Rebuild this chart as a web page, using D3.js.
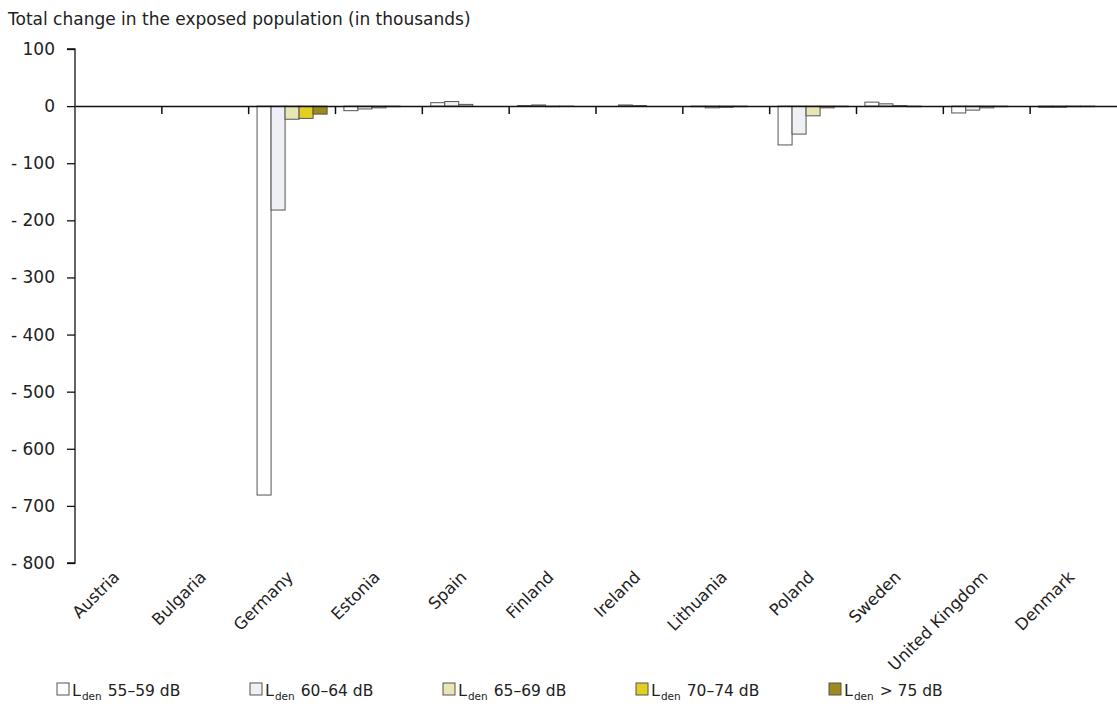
<!DOCTYPE html>
<html>
<head>
<meta charset="utf-8">
<script src="https://cdn.jsdelivr.net/npm/d3@7"></script>
<style>
  html, body { margin: 0; padding: 0; background: #fff; }
  svg { display: block; font-family: "DejaVu Sans", Verdana, sans-serif; }
</style>
</head>
<body>
<svg id="chart" width="1117" height="704"></svg>
<script>
// ---- data ----
const countries = ["Austria", "Bulgaria", "Germany", "Estonia", "Spain", "Finland",
  "Ireland", "Lithuania", "Poland", "Sweden", "United Kingdom", "Denmark"];
const seriesNames = ["55–59 dB", "60–64 dB", "65–69 dB", "70–74 dB", "> 75 dB"];
const s55_59 = [0, 0, -681, -8, 6, 1, 0, -1, -68, 7, -12, -2];
const s60_64 = [0, 0, -182, -5, 8, 2, 2, -3, -49, 4, -7, -2];
const s65_69 = [0, 0, -23, -3, 3, -1, 1, -2, -17, 1, -3, -1];
const s70_74 = [0, 0, -21.5, -1, 0, -0.5, 0, -1, -3, -1, -1, -1];
const s75 = [0, 0, -14, 0, 0, 0, 0, 0, -1, 0, 0, 0];
const yTicks = [100, 0, -100, -200, -300, -400, -500, -600, -700, -800];
const colors = ["#ffffff", "#efeff6", "#e9e6b5", "#e3cf22", "#9e8a1c"];
const title = "Total change in the exposed population (in thousands)";

const seriesValues = [s55_59, s60_64, s65_69, s70_74, s75];

const svg = d3.select("#chart");
const mLeft = 75, mRight = 1117, mTop = 49, mBottom = 563;

const x0 = d3.scaleBand().domain(countries).range([mLeft, mRight]).paddingInner(0).paddingOuter(0);
const x1 = d3.scaleBand().domain(seriesNames).range([0, x0.bandwidth()]).paddingInner(0).paddingOuter(0.6);
const y = d3.scaleLinear().domain([100, -800]).range([mTop, mBottom]);

// title
svg.append("text").attr("x", 8).attr("y", 25)
  .attr("font-size", 17).attr("fill", "#222").text(title);

// y axis
const yAxis = d3.axisLeft(y).tickValues(yTicks).tickSize(8).tickPadding(12)
  .tickFormat(d => d < 0 ? "- " + Math.abs(d) : String(d));
const gy = svg.append("g").attr("transform", `translate(${mLeft},0)`).call(yAxis);
gy.select(".domain").attr("d", `M-8,${mTop}H0V${mBottom}H-8`).attr("stroke", "#111").attr("stroke-width", 1.3);
gy.selectAll(".tick line").attr("stroke", "#111").attr("stroke-width", 1.3);
gy.selectAll(".tick text").attr("font-size", 17).attr("fill", "#222")
  .attr("font-family", "DejaVu Sans, Verdana, sans-serif");

// bars
const groups = svg.append("g").selectAll("g").data(countries).join("g")
  .attr("transform", d => `translate(${x0(d)},0)`);
groups.selectAll("rect")
  .data((c, ci) => seriesNames.map((s, si) => ({ s, si, v: seriesValues[si][ci] })).filter(d => d.v !== 0))
  .join("rect")
  .attr("x", d => x1(d.s))
  .attr("width", x1.bandwidth())
  .attr("y", d => Math.min(y(d.v), y(0)))
  .attr("height", d => Math.abs(y(d.v) - y(0)))
  .attr("fill", d => colors[d.si])
  .attr("stroke", "#555")
  .attr("stroke-width", 1);

// zero line with category ticks
const xAxis = d3.axisBottom(x0).tickSize(0).tickFormat("");
const gx = svg.append("g").attr("transform", `translate(0,${y(0)})`).call(xAxis);
gx.select(".domain").attr("stroke", "#111").attr("stroke-width", 1.5);
gx.selectAll(".boundary").data(countries.slice(1)).join("line")
  .attr("class", "boundary")
  .attr("x1", d => x0(d)).attr("x2", d => x0(d))
  .attr("y1", 0).attr("y2", 8)
  .attr("stroke", "#111").attr("stroke-width", 1.5);

// x labels (rotated)
svg.append("g").selectAll("text").data(countries).join("text")
  .attr("transform", d => `translate(${x0(d) + x0.bandwidth() / 2 + 2},${578}) rotate(-45)`)
  .attr("text-anchor", "end")
  .attr("font-size", 16.5).attr("fill", "#222")
  .text(d => d);

// legend
const lg = svg.append("g").selectAll("g").data(seriesNames).join("g")
  .attr("transform", (d, i) => `translate(${57 + i * 193},683)`);
lg.append("rect").attr("width", 12).attr("height", 12)
  .attr("fill", (d, i) => colors[i]).attr("stroke", "#555").attr("stroke-width", 1);
const lt = lg.append("text").attr("x", 15).attr("y", 13).attr("font-size", 16).attr("fill", "#222");
lt.append("tspan").text("L");
lt.append("tspan").attr("font-size", 10.5).attr("dy", 4).attr("dx", 1).text("den");
lt.append("tspan").attr("dy", -4).attr("dx", 6).attr("font-size", 15.5).text(d => d);
</script>
</body>
</html>
